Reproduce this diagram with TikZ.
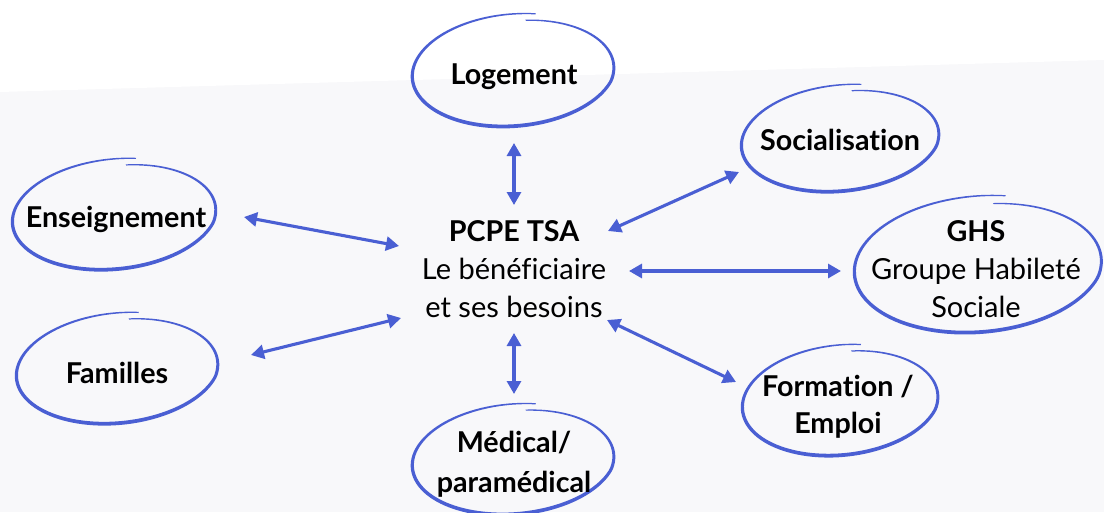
\documentclass[tikz,border=0pt]{standalone}
\usepackage{fontspec}
\setmainfont{Lato}[Ligatures=NoCommon]
\usetikzlibrary{arrows.meta}
\definecolor{blu}{HTML}{4A5FD3}
\definecolor{bgg}{HTML}{F8F8FA}
\pgfmathdeclarefunction{hlr}{1}{\pgfmathparse{1-0.12*max(0,(380-#1)/100)}}
\pgfmathdeclarefunction{hlw}{1}{\pgfmathparse{0.6+1.3*sin((#1-280)/365*180)}}
\tikzset{
  conn/.style={blu, line width=3.1pt,
    {Triangle[length=13pt,width=14pt]}-{Triangle[length=13pt,width=14pt]}},
  lab/.style={font=\bfseries\fontsize{28.7}{38}\selectfont, align=center, inner sep=0pt, text=black},
  reg/.style={font=\fontsize{29}{38}\selectfont, align=center, inner sep=0pt, text=black},
}
% hand-drawn loop: centre x, centre y, x radius, y radius, tilt
\newcommand\handloop[5]{%
  \fill[blu] plot[domain=280:645, samples=120, variable=\t]
   ({#1 + (#3*hlr(\t)+hlw(\t))*cos(\t)*cos(#5) - (#4*hlr(\t)+hlw(\t))*sin(\t)*sin(#5)},
    {#2 + (#3*hlr(\t)+hlw(\t))*cos(\t)*sin(#5) + (#4*hlr(\t)+hlw(\t))*sin(\t)*cos(#5)})
   -- plot[domain=0:1, samples=120, variable=\u]
   ({#1 + (#3*hlr(645-365*\u)-hlw(645-365*\u))*cos(645-365*\u)*cos(#5) - (#4*hlr(645-365*\u)-hlw(645-365*\u))*sin(645-365*\u)*sin(#5)},
    {#2 + (#3*hlr(645-365*\u)-hlw(645-365*\u))*cos(645-365*\u)*sin(#5) + (#4*hlr(645-365*\u)-hlw(645-365*\u))*sin(645-365*\u)*cos(#5)})
   -- cycle;
}
\begin{document}
\begin{tikzpicture}[x=1pt,y=-1pt]
\useasboundingbox (0,0) rectangle (1104,512);
\fill[bgg] (0,0) rectangle (1104,512);
\fill[white] (0,0) -- (1104,0) -- (1104,60) -- (0,92) -- cycle;

% loops
\handloop{514}{70}{102}{56}{-5}
\handloop{841}{138}{100}{53}{-6}
\handloop{115}{214}{103}{55}{-6}
\handloop{979}{264}{125}{68}{-5}
\handloop{118}{368}{102}{55}{-6}
\handloop{841}{400}{99}{55}{-6}
\handloop{514}{459}{102}{55}{-5}

% labels
\node[lab, anchor=base] (log) at (514,84) {Logement};
\node[lab, anchor=base] (soc) at (840,150) {Socialisation};
\node[lab, anchor=base] (ens) at (116,227) {Enseignement};
\node[lab, anchor=base] (fam) at (117,383) {Familles};
\node[reg, anchor=north] (ghs) at (976,220) {\bfseries\fontsize{28.7}{38}\selectfont GHS\\Groupe Habileté\\Sociale};
\node[reg, anchor=north] (ctr) at (514,220) {\bfseries\fontsize{28.7}{38}\selectfont PCPE TSA\\Le bénéficiaire\\et ses besoins};
\node[lab, anchor=north, font=\bfseries\fontsize{28.7}{37}\selectfont] (form) at (838,375) {Formation /\\Emploi};
\node[lab, anchor=north, font=\bfseries\fontsize{28.7}{40}\selectfont] (med) at (514,431) {Médical/\\paramédical};

% connector ends
\coordinate (logA) at (514,143); \coordinate (logB) at (514,205);
\coordinate (socA) at (608,231); \coordinate (socB) at (739,172);
\coordinate (ghsA) at (629,271); \coordinate (ghsB) at (841,271);
\coordinate (formA) at (607,320); \coordinate (formB) at (736,382);
\coordinate (medA) at (514,333); \coordinate (medB) at (514,394);
\coordinate (ensA) at (244,217); \coordinate (ensB) at (399,246);
\coordinate (famA) at (251,355); \coordinate (famB) at (401,318);

\draw[conn] (logA) -- (logB);
\draw[conn] (socA) -- (socB);
\draw[conn] (ghsA) -- (ghsB);
\draw[conn] (formA) -- (formB);
\draw[conn] (medA) -- (medB);
\draw[conn] (ensA) -- (ensB);
\draw[conn] (famA) -- (famB);
\end{tikzpicture}
\end{document}
